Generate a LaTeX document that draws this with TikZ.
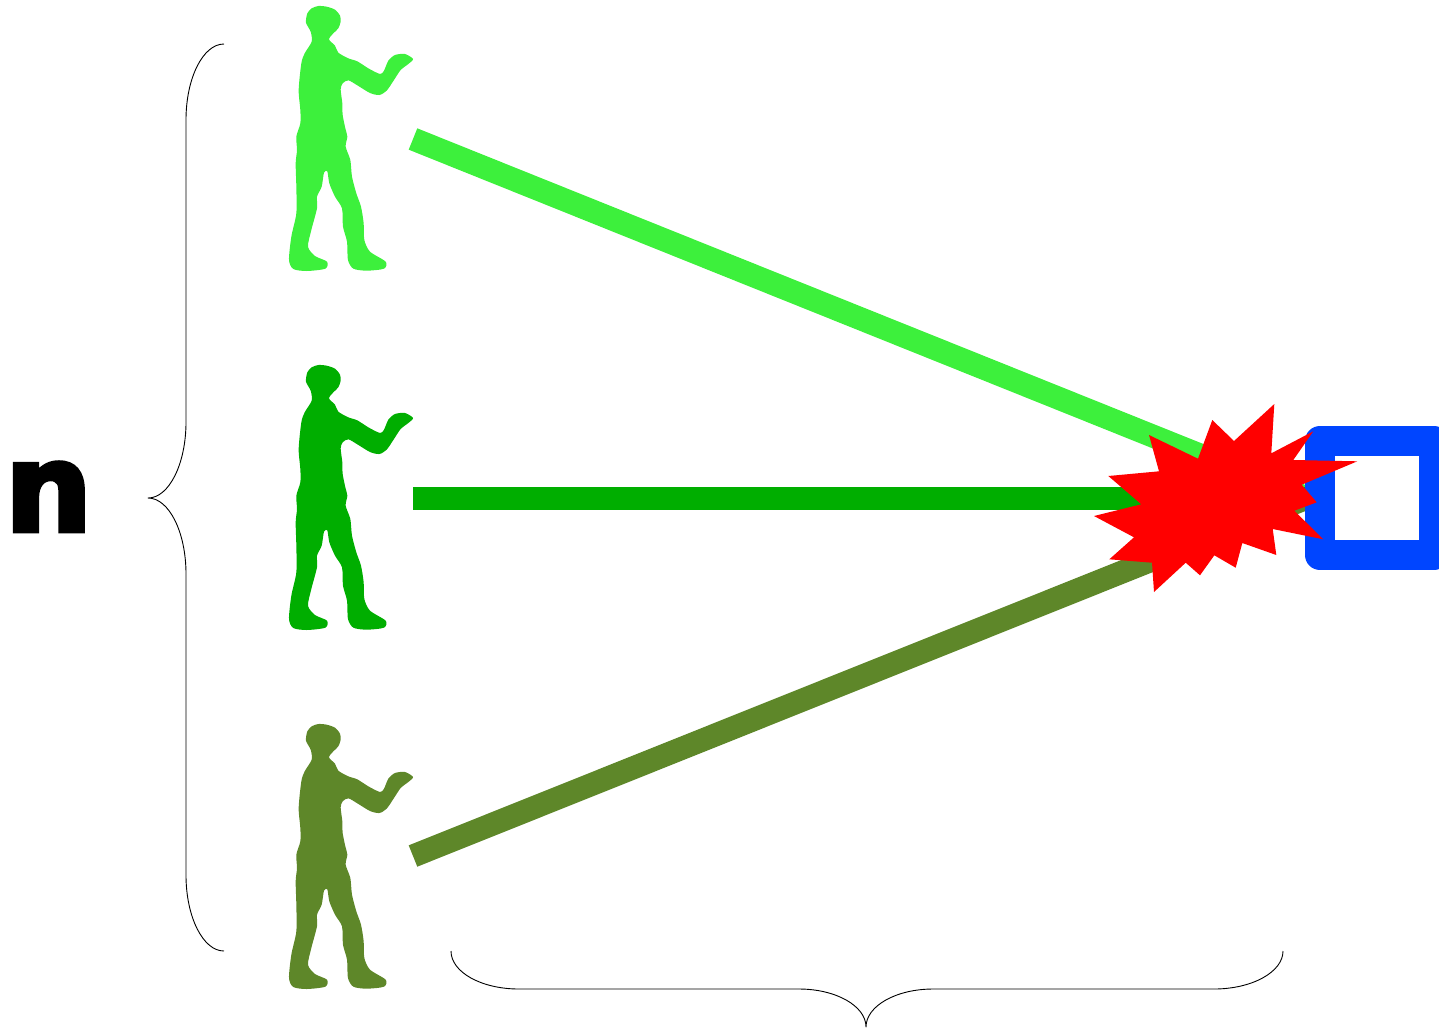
\documentclass[tikz,border=0pt]{standalone}
\usepackage{fontspec}
\setmainfont{DejaVu Sans}
\newfontfamily\countfont[FakeBold=4]{DejaVu Sans Bold}
\definecolor{lightgreen}{RGB}{61,240,60}
\definecolor{midgreen}{RGB}{0,174,0}
\definecolor{olivegreen}{RGB}{94,135,41}
\definecolor{targetblue}{RGB}{0,69,255}
\begin{document}
\begin{tikzpicture}[
  x=0.5pt, y=-0.5pt,
  beam/.style={line width=11.5pt},
  brace/.style={draw, line width=0.45pt, line join=round},
  targetbox/.style={draw=targetblue, fill=white, line width=15pt, line join=round, inner sep=0pt, minimum size=57pt},
  person/.pic={
    \fill[pic actions, scale=1/3] plot[smooth cycle, tension=0.45] coordinates {
      (145,18) (170,20) (195,29) (210,47) (212,65) (205,85) (190,100) (177,118) (195,137) (205,158)
      (235,175) (262,184) (295,205) (330,222) (342,212) (355,182) (375,165) (405,162)
      (429,177) (415,192) (392,210) (372,240) (350,272) (328,285) (300,279) (262,256)
      (235,241) (218,250) (212,268) (217,310) (218,345) (226,385) (232,410) (227,440)
      (241,480) (246,530) (259,580) (273,620) (281,670) (283,720) (300,755) (347,785)
      (342,806) (290,812) (250,806) (234,780) (231,725) (219,680) (216,625) (195,590)
      (178,550) (172,514) (162,518) (155,560) (141,590) (141,625) (124,690) (114,740)
      (135,768) (171,785) (166,806) (110,813) (70,807) (57,780) (64,710) (79,640)
      (79,560) (77,490) (81,450) (79,410) (91,370) (91,330) (86,270) (94,190)
      (104,160) (125,125) (122,95) (108,68) (112,40) (125,25)};
  }
]
  \useasboundingbox (0,0) rectangle (1439,1029);
  \coordinate (hit) at (1307,498);
  \coordinate (top) at (413,139);
  \coordinate (mid) at (413,498);
  \coordinate (bot) at (413,856);
  \draw[beam, lightgreen] (top) -- (hit);
  \draw[beam, midgreen] (mid) -- (hit);
  \draw[beam, olivegreen] (bot) -- (hit);
  \pic[lightgreen] (persontop) at (270,0) {person};
  \pic[midgreen] (personmid) at (270,359) {person};
  \pic[olivegreen] (personbot) at (270,718) {person};
  \node[targetbox] (target) at (1377,498) {};
  \fill[red] (1274.3,404) -- (1271.3,453.3) -- (1313.3,431.3) -- (1293.3,460) -- (1357.3,461.3)
    -- (1301.7,484.7) -- (1316.7,502.3) -- (1294.3,510.7) -- (1323.3,539.3) -- (1272.7,529)
    -- (1276.3,555) -- (1242.3,543) -- (1235.7,567.7) -- (1214.3,555.3) -- (1200,575.3)
    -- (1185.7,562.7) -- (1154,592) -- (1152,562.7) -- (1109.3,559.3) -- (1134,537.3)
    -- (1094,516) -- (1141.3,504.3) -- (1108.3,476) -- (1159,471.3) -- (1149,435)
    -- (1198,458.7) -- (1212.3,420) -- (1234,441) -- cycle;
  \draw[brace] (224,44) .. controls (203,44) and (186,78) .. (186,120) -- (186,422)
    .. controls (186,464) and (169,498) .. (148,498)
    .. controls (169,498) and (186,532) .. (186,574) -- (186,875)
    .. controls (186,917) and (203,951) .. (224,951);
  \draw[brace] (451,951) .. controls (451,972) and (481,989) .. (519,989) -- (799,989)
    .. controls (836,989) and (866,1006) .. (866,1027)
    .. controls (866,1006) and (896,989) .. (933,989) -- (1214,989)
    .. controls (1252,989) and (1283,972) .. (1283,951);
  \node[anchor=base, inner sep=0pt, font=\fontsize{61pt}{70pt}\countfont] (count) at (48.5,531) {n};
\end{tikzpicture}
\end{document}
